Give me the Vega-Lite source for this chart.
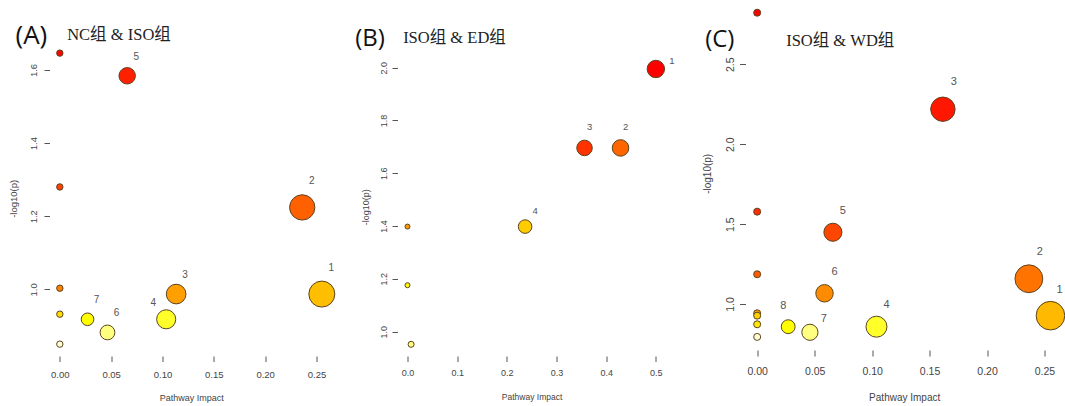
{
  "$schema": "https://vega.github.io/schema/vega-lite/v6.json",
  "background": "white",
  "padding": {"left": 8.5, "top": 0, "right": 0, "bottom": 0},
  "autosize": {"type": "pad"},
  "bounds": "flush",
  "spacing": 10,
  "config": {
    "view": {"stroke": null},
    "axis": {"grid": false, "domain": false, "tickColor": "#555555", "tickWidth": 1, "labelColor": "#444444", "titleColor": "#444444", "labelFont": "Liberation Sans", "titleFont": "Liberation Sans", "titleFontWeight": "normal", "labelOverlap": false, "labelFlush": false}
  },
  "resolve": {"scale": {"color": "independent", "size": "independent"}},
  "datasets": {
    "A": [
      {"impact": 0, "logp": 1.646, "rank": 1, "label": ""},
      {"impact": 0.0656, "logp": 1.584, "rank": 2, "label": "5"},
      {"impact": 0, "logp": 1.28, "rank": 3, "label": ""},
      {"impact": 0.2361, "logp": 1.224, "rank": 4, "label": "2"},
      {"impact": 0, "logp": 1.003, "rank": 5, "label": ""},
      {"impact": 0.1133, "logp": 0.987, "rank": 6, "label": "3"},
      {"impact": 0.2552, "logp": 0.987, "rank": 7, "label": "1"},
      {"impact": 0, "logp": 0.932, "rank": 8, "label": ""},
      {"impact": 0.027, "logp": 0.918, "rank": 9, "label": "7"},
      {"impact": 0.1036, "logp": 0.918, "rank": 10, "label": "4"},
      {"impact": 0.0464, "logp": 0.882, "rank": 11, "label": "6"},
      {"impact": 0, "logp": 0.85, "rank": 12, "label": ""}
    ],
    "B": [
      {"impact": 0.5, "logp": 1.995, "rank": 1, "label": "1"},
      {"impact": 0.3564, "logp": 1.696, "rank": 2, "label": "3"},
      {"impact": 0.4289, "logp": 1.696, "rank": 3, "label": "2"},
      {"impact": 0, "logp": 1.398, "rank": 4, "label": ""},
      {"impact": 0.2368, "logp": 1.398, "rank": 5, "label": "4"},
      {"impact": 0, "logp": 1.176, "rank": 6, "label": ""},
      {"impact": 0.0073, "logp": 0.952, "rank": 7, "label": ""}
    ],
    "C": [
      {"impact": 0, "logp": 2.823, "rank": 1, "label": ""},
      {"impact": 0.1616, "logp": 2.219, "rank": 2, "label": "3"},
      {"impact": 0, "logp": 1.578, "rank": 3, "label": ""},
      {"impact": 0.0659, "logp": 1.449, "rank": 4, "label": "5"},
      {"impact": 0, "logp": 1.186, "rank": 5, "label": ""},
      {"impact": 0.2364, "logp": 1.158, "rank": 6, "label": "2"},
      {"impact": 0.0586, "logp": 1.067, "rank": 7, "label": "6"},
      {"impact": 0, "logp": 0.942, "rank": 8, "label": ""},
      {"impact": 0.2552, "logp": 0.927, "rank": 9, "label": "1"},
      {"impact": 0, "logp": 0.927, "rank": 10, "label": ""},
      {"impact": 0, "logp": 0.873, "rank": 11, "label": ""},
      {"impact": 0.027, "logp": 0.858, "rank": 12, "label": "8"},
      {"impact": 0.1038, "logp": 0.858, "rank": 13, "label": "4"},
      {"impact": 0.0459, "logp": 0.823, "rank": 14, "label": "7"},
      {"impact": 0, "logp": 0.794, "rank": 15, "label": ""}
    ]
  },
  "hconcat": [
    {
      "width": 337.67,
      "height": 356,
      "data": {"name": "A"},
      "encoding": {
        "x": {"field": "impact", "type": "quantitative", "scale": {"domain": [-0.01006, 0.31883], "nice": false, "zero": false},
          "axis": {"values": [0, 0.05, 0.1, 0.15, 0.2, 0.25], "format": ".2f", "tickSize": 5.5, "labelPadding": 12.5, "labelBaseline": "middle", "labelFontSize": 9.5, "title": "Pathway Impact", "titleFontSize": 9, "titleX": 141.7, "titleY": 41.7, "titleBaseline": "middle", "titleAlign": "center"}},
        "y": {"field": "logp", "type": "quantitative", "scale": {"domain": [0.8176, 1.7913], "nice": false, "zero": false},
          "axis": {"values": [1.0, 1.2, 1.4, 1.6], "format": ".1f", "tickSize": 5.5, "labelAngle": 270, "labelAlign": "center", "labelBaseline": "middle", "labelPadding": 10.2, "labelFontSize": 9.5, "title": "-log10(p)", "titleFontSize": 9.5, "titleAngle": 270, "titleX": -35.7, "titleY": 198.3, "titleBaseline": "middle", "titleAlign": "center"}}
      },
      "layer": [
        {"data": {"values": [{}]}, "mark": {"type": "rule", "color": "#555555", "strokeWidth": 1}, "encoding": {"x": {"datum": -0.01006}, "y": {"datum": 1.0}, "y2": {"datum": 1.6}}},
        {"data": {"values": [{}]}, "mark": {"type": "rule", "color": "#555555", "strokeWidth": 1}, "encoding": {"x": {"datum": 0}, "x2": {"datum": 0.25}, "y": {"datum": 0.8176}}},
        {"mark": {"type": "point", "shape": "circle", "filled": true, "opacity": 1, "stroke": "#5c4320", "strokeWidth": 1},
          "encoding": {
            "color": {"field": "rank", "type": "ordinal", "legend": null, "scale": {"domain": [1,2,3,4,5,6,7,8,9,10,11,12], "range": ["#FF0000","#FF2000","#FF4000","#FF6000","#FF8000","#FF9F00","#FFBF00","#FFDF00","#FFFF00","#FFFF2A","#FFFF80","#FFFFD5"]}},
            "size": {"field": "impact", "type": "quantitative", "legend": null, "scale": {"type": "pow", "exponent": 0.75, "domain": [0, 0.2552], "range": [41, 676]}}
          }},
        {"transform": [{"filter": "datum.label == '5' || datum.label == '3' || datum.label == '7' || datum.label == '6'"}],
          "mark": {"type": "text", "font": "Liberation Sans", "fontSize": 10, "color": "#555555", "dx": 9, "dy": -19, "align": "center", "baseline": "middle"},
          "encoding": {"text": {"field": "label"}}},
        {"transform": [{"filter": "datum.label == '1' || datum.label == '2'"}],
          "mark": {"type": "text", "font": "Liberation Sans", "fontSize": 10, "color": "#555555", "dx": 9.5, "dy": -26.5, "align": "center", "baseline": "middle"},
          "encoding": {"text": {"field": "label"}}},
        {"transform": [{"filter": "datum.label == '4'"}],
          "mark": {"type": "text", "font": "Liberation Sans", "fontSize": 10, "color": "#555555", "dx": -13, "dy": -16, "align": "center", "baseline": "middle"},
          "encoding": {"text": {"field": "label"}}},
        {"transform": [{"filter": "datum.rank == 1"}],
          "mark": {"type": "text", "font": "Open Sans", "fontSize": 26, "fontWeight": 500, "color": "#111111", "align": "left", "baseline": "alphabetic"},
          "encoding": {"text": {"value": "(A)"}, "x": {"datum": -0.04318}, "y": {"datum": 1.6702}}},
        {"transform": [{"filter": "datum.rank == 1"}],
          "mark": {"type": "text", "font": "Liberation Serif, Noto Sans CJK SC", "fontSize": 16.5, "color": "#222222", "align": "left", "baseline": "alphabetic"},
          "encoding": {"text": {"value": "NC组 & ISO组"}, "x": {"datum": 0.00718}, "y": {"datum": 1.682}}}
      ]
    },
    {
      "width": 337.67,
      "height": 356,
      "data": {"name": "B"},
      "encoding": {
        "x": {"field": "impact", "type": "quantitative", "scale": {"domain": [-0.02013, 0.6597], "nice": false, "zero": false},
          "axis": {"values": [0, 0.1, 0.2, 0.3, 0.4, 0.5], "format": ".1f", "tickSize": 5.5, "labelPadding": 11.2, "labelBaseline": "middle", "labelFontSize": 9, "title": "Pathway Impact", "titleFontSize": 8.5, "titleX": 134.1, "titleY": 40, "titleBaseline": "middle", "titleAlign": "center"}},
        "y": {"field": "logp", "type": "quantitative", "scale": {"domain": [0.9078, 2.2563], "nice": false, "zero": false},
          "axis": {"values": [1.0, 1.2, 1.4, 1.6, 1.8, 2.0], "format": ".1f", "tickSize": 5.5, "labelAngle": 270, "labelAlign": "center", "labelBaseline": "middle", "labelPadding": 8.8, "labelFontSize": 9, "title": "-log10(p)", "titleFontSize": 9, "titleAngle": 270, "titleX": -32.4, "titleY": 206.7, "titleBaseline": "middle", "titleAlign": "center"}}
      },
      "layer": [
        {"data": {"values": [{}]}, "mark": {"type": "rule", "color": "#555555", "strokeWidth": 1}, "encoding": {"x": {"datum": -0.02013}, "y": {"datum": 1.0}, "y2": {"datum": 2.0}}},
        {"data": {"values": [{}]}, "mark": {"type": "rule", "color": "#555555", "strokeWidth": 1}, "encoding": {"x": {"datum": 0}, "x2": {"datum": 0.5}, "y": {"datum": 0.9078}}},
        {"mark": {"type": "point", "shape": "circle", "filled": true, "opacity": 1, "stroke": "#5c4320", "strokeWidth": 1},
          "encoding": {
            "color": {"field": "rank", "type": "ordinal", "legend": null, "scale": {"domain": [1,2,3,4,5,6,7], "range": ["#FF0000","#FF3300","#FF6600","#FF9900","#FFCC00","#FFFF00","#FFFF80"]}},
            "size": {"field": "impact", "type": "quantitative", "legend": null, "scale": {"type": "pow", "exponent": 0.75, "domain": [0, 0.5], "range": [25, 303]}}
          }},
        {"transform": [{"filter": "datum.label == '2' || datum.label == '3'"}],
          "mark": {"type": "text", "font": "Liberation Sans", "fontSize": 9.5, "color": "#555555", "dx": 5, "dy": -20.5, "align": "center", "baseline": "middle"},
          "encoding": {"text": {"field": "label"}}},
        {"transform": [{"filter": "datum.label == '4'"}],
          "mark": {"type": "text", "font": "Liberation Sans", "fontSize": 9.5, "color": "#555555", "dx": 10, "dy": -16, "align": "center", "baseline": "middle"},
          "encoding": {"text": {"field": "label"}}},
        {"transform": [{"filter": "datum.label == '1'"}],
          "mark": {"type": "text", "font": "Liberation Sans", "fontSize": 9.5, "color": "#555555", "dx": 16, "dy": -8, "align": "center", "baseline": "middle"},
          "encoding": {"text": {"field": "label"}}},
        {"transform": [{"filter": "datum.rank == 1"}],
          "mark": {"type": "text", "font": "Open Sans", "fontSize": 24, "fontWeight": 500, "color": "#111111", "align": "left", "baseline": "alphabetic"},
          "encoding": {"text": {"value": "(B)"}, "x": {"datum": -0.1054}, "y": {"datum": 2.0821}}},
        {"transform": [{"filter": "datum.rank == 1"}],
          "mark": {"type": "text", "font": "Liberation Serif, Noto Sans CJK SC", "fontSize": 16.5, "color": "#222222", "align": "left", "baseline": "alphabetic"},
          "encoding": {"text": {"value": "ISO组 & ED组"}, "x": {"datum": -0.0088}, "y": {"datum": 2.0923}}}
      ]
    },
    {
      "width": 320.67,
      "height": 350,
      "data": {"name": "C"},
      "encoding": {
        "x": {"field": "impact", "type": "quantitative", "scale": {"domain": [-0.01015, 0.26886], "nice": false, "zero": false},
          "axis": {"values": [0, 0.05, 0.1, 0.15, 0.2, 0.25], "format": ".2f", "tickSize": 6, "labelPadding": 15, "labelBaseline": "middle", "labelFontSize": 10.5, "title": "Pathway Impact", "titleFontSize": 10, "titleX": 158.7, "titleY": 47.7, "titleBaseline": "middle", "titleAlign": "center"}},
        "y": {"field": "logp", "type": "quantitative", "scale": {"domain": [0.7121, 2.9026], "nice": false, "zero": false},
          "axis": {"values": [1.0, 1.5, 2.0, 2.5], "format": ".1f", "tickSize": 6, "labelAngle": 270, "labelAlign": "center", "labelBaseline": "middle", "labelPadding": 9, "labelFontSize": 10.5, "title": "-log10(p)", "titleFontSize": 10, "titleAngle": 270, "titleX": -37.6, "titleY": 173.3, "titleBaseline": "middle", "titleAlign": "center"}}
      },
      "layer": [
        {"data": {"values": [{}]}, "mark": {"type": "rule", "color": "#555555", "strokeWidth": 1}, "encoding": {"x": {"datum": -0.01015}, "y": {"datum": 1.0}, "y2": {"datum": 2.5}}},
        {"data": {"values": [{}]}, "mark": {"type": "rule", "color": "#555555", "strokeWidth": 1}, "encoding": {"x": {"datum": 0}, "x2": {"datum": 0.25}, "y": {"datum": 0.7121}}},
        {"mark": {"type": "point", "shape": "circle", "filled": true, "opacity": 1, "stroke": "#5c4320", "strokeWidth": 1},
          "encoding": {
            "color": {"field": "rank", "type": "ordinal", "legend": null, "scale": {"domain": [1,2,3,4,5,6,7,8,9,10,11,12,13,14,15], "range": ["#FF0000","#FF1700","#FF2E00","#FF4600","#FF5D00","#FF7400","#FF8B00","#FFA200","#FFB900","#FFD100","#FFE800","#FFFF00","#FFFF2A","#FFFF80","#FFFFD5"]}},
            "size": {"field": "impact", "type": "quantitative", "legend": null, "scale": {"type": "pow", "exponent": 0.75, "domain": [0, 0.2552], "range": [49, 818]}}
          }},
        {"transform": [{"filter": "datum.label == '2' || datum.label == '3'"}],
          "mark": {"type": "text", "font": "Liberation Sans", "fontSize": 11, "color": "#555555", "dx": 11, "dy": -27, "align": "center", "baseline": "middle"},
          "encoding": {"text": {"field": "label"}}},
        {"transform": [{"filter": "datum.label == '1'"}],
          "mark": {"type": "text", "font": "Liberation Sans", "fontSize": 11, "color": "#555555", "dx": 9, "dy": -26, "align": "center", "baseline": "middle"},
          "encoding": {"text": {"field": "label"}}},
        {"transform": [{"filter": "datum.label == '4' || datum.label == '5' || datum.label == '6'"}],
          "mark": {"type": "text", "font": "Liberation Sans", "fontSize": 11, "color": "#555555", "dx": 10, "dy": -21.5, "align": "center", "baseline": "middle"},
          "encoding": {"text": {"field": "label"}}},
        {"transform": [{"filter": "datum.label == '8'"}],
          "mark": {"type": "text", "font": "Liberation Sans", "fontSize": 11, "color": "#555555", "dx": -5, "dy": -21, "align": "center", "baseline": "middle"},
          "encoding": {"text": {"field": "label"}}},
        {"transform": [{"filter": "datum.label == '7'"}],
          "mark": {"type": "text", "font": "Liberation Sans", "fontSize": 11, "color": "#555555", "dx": 14, "dy": -13.5, "align": "center", "baseline": "middle"},
          "encoding": {"text": {"field": "label"}}},
        {"transform": [{"filter": "datum.rank == 1"}],
          "mark": {"type": "text", "font": "Open Sans", "fontSize": 24, "fontWeight": 500, "color": "#111111", "align": "left", "baseline": "alphabetic"},
          "encoding": {"text": {"value": "(C)"}, "x": {"datum": -0.04524}, "y": {"datum": 2.6085}}},
        {"transform": [{"filter": "datum.rank == 1"}],
          "mark": {"type": "text", "font": "Liberation Serif, Noto Sans CJK SC", "fontSize": 16.5, "color": "#222222", "align": "left", "baseline": "alphabetic"},
          "encoding": {"text": {"value": "ISO组 & WD组"}, "x": {"datum": 0.02523}, "y": {"datum": 2.6166}}}
      ]
    }
  ]
}
